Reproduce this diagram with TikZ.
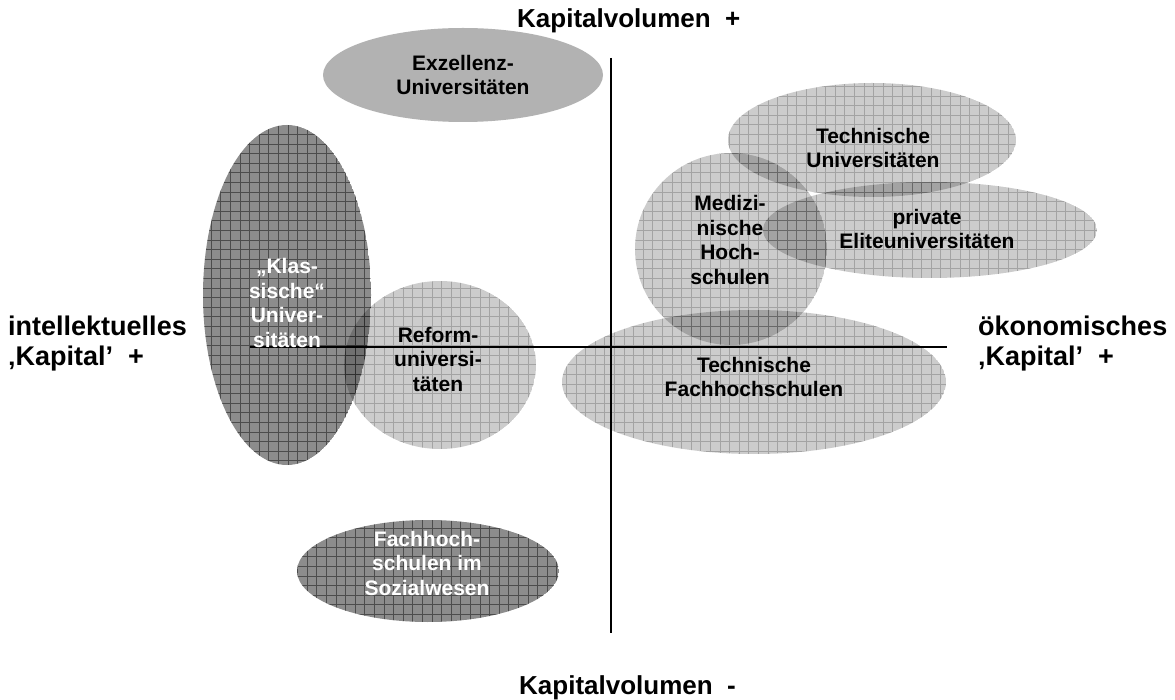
\documentclass[tikz,border=0pt]{standalone}
\usepackage{fontspec}
\setmainfont{Liberation Sans}
\newcommand{\gridellipse}[6]{%
  \begin{scope}
    \clip (#1,#2) ellipse [x radius=#3, y radius=#4];
    \fill[black, opacity=#5] (#1,#2) ellipse [x radius=#3, y radius=#4];
    \draw[black, opacity=#6, line width=0.9pt, step=9.6pt] (#1-#3-10,#2-#4-10) grid (#1+#3+10,#2+#4+10);
  \end{scope}}
\begin{document}
\begin{tikzpicture}[x=1pt,y=-1pt,
  inner/.style={font=\fontsize{21}{24.5}\selectfont\bfseries, align=center, inner sep=0pt},
  axislabel/.style={font=\fontsize{26}{30}\selectfont\bfseries, inner sep=0pt},
  sidelabel/.style={font=\fontsize{27}{30}\selectfont\bfseries, inner sep=0pt},
  axisline/.style={line width=1.6pt, black}]
\useasboundingbox (0,0) rectangle (1175,700);
\fill[white] (0,0) rectangle (1175,700);
% ellipses
\fill[gray!60] (463,75) ellipse [x radius=140, y radius=47];
\gridellipse{287}{295}{84}{170}{0.45}{0.45}
\gridellipse{440}{365}{96}{84}{0.2}{0.2}
\gridellipse{428}{571}{131}{51}{0.45}{0.45}
\gridellipse{872}{140}{144}{57}{0.2}{0.2}
\gridellipse{930}{230}{167}{48}{0.2}{0.2}
\gridellipse{731}{249}{96}{96}{0.2}{0.2}
\gridellipse{754}{382}{192}{72}{0.2}{0.2}
% axes
\coordinate (vtop) at (611,58);
\coordinate (vbot) at (611,633);
\coordinate (hleft) at (250,347);
\coordinate (hright) at (947,347);
\draw[axisline] (vtop) -- (vbot);
\draw[axisline] (hleft) -- (hright);
% axis labels
\node[axislabel, anchor=base west] (top) at (517,28) {Kapitalvolumen\ \ +};
\node[axislabel, anchor=base west] (bot) at (519,694) {Kapitalvolumen\ \ -};
\node[sidelabel, anchor=west, align=left] (left) at (8,344) {intellektuelles\\‚Kapital’\ \ +};
\node[sidelabel, anchor=west, align=left] (right) at (978,344) {ökonomisches\\‚Kapital’\ \ +};
% inner labels
\node[inner] (exz) at (463,75) {Exzellenz-\\Universitäten};
\node[inner, text=white] (klass) at (287,303) {„Klas-\\sische“\\Univer-\\sitäten};
\node[inner] (reform) at (438,359) {Reform-\\universi-\\täten};
\node[inner, text=white] (fhs) at (427,563) {Fachhoch-\\schulen im\\Sozialwesen};
\node[inner] (tu) at (873,148) {Technische\\Universitäten};
\node[inner] (elite) at (927,229) {private\\Eliteuniversitäten};
\node[inner] (med) at (730,240) {Medizi-\\nische\\Hoch-\\schulen};
\node[inner] (tfh) at (754,377) {Technische\\Fachhochschulen};
\end{tikzpicture}
\end{document}
